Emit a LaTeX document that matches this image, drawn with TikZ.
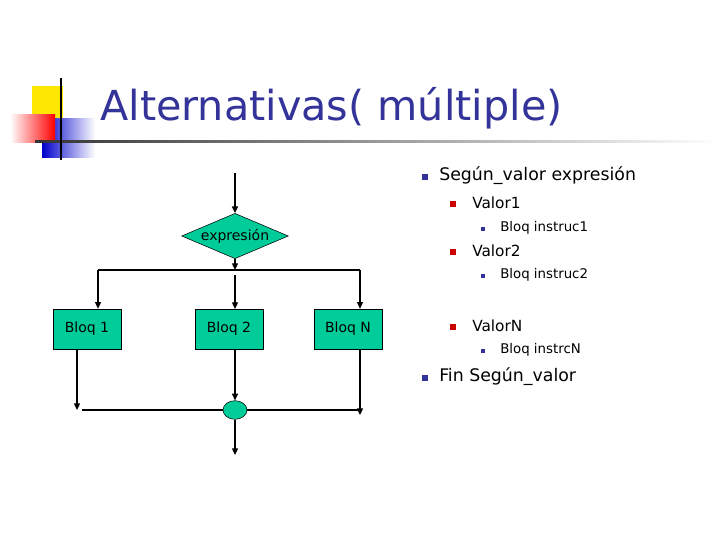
\documentclass[tikz,border=0pt]{standalone}
\usepackage{fontspec}
\setmainfont{DejaVu Sans}
\usetikzlibrary{shapes.geometric,arrows.meta}
\definecolor{fill}{HTML}{00CC99}
\definecolor{titleblue}{HTML}{333399}
\definecolor{bblue}{HTML}{333399}
\definecolor{bred}{HTML}{CC0000}
\begin{document}
\begin{tikzpicture}[x=0.75pt,y=-0.75pt,
  box/.style={draw,fill=fill,minimum width=51pt,minimum height=30pt,inner sep=0pt,font=\fontsize{10.5}{12}\selectfont},
  flow/.style={draw,line width=0.9pt,-{Triangle[length=5pt,width=4.5pt]}},
  plain/.style={draw,line width=0.9pt},
  b1/.style={fill=bblue,minimum size=4.5pt,inner sep=0pt},
  b2/.style={fill=bred,minimum size=4.5pt,inner sep=0pt},
  b3/.style={fill=bblue,minimum size=3.5pt,inner sep=0pt},
  t1/.style={anchor=west,inner sep=0pt,font=\fontsize{13}{15}\selectfont},
  t2/.style={anchor=west,inner sep=0pt,font=\fontsize{11.5}{14}\selectfont},
  t3/.style={anchor=west,inner sep=0pt,font=\fontsize{10}{12}\selectfont}]
\useasboundingbox (0,0) rectangle (720,540);
% logo
\fill[yellow!90!orange] (32,86) rectangle (63,118);
\shade[left color=blue!80!black, right color=white] (42,118) rectangle (95,157);
\shade[left color=white, right color=red] (10,114) rectangle (55,142);
\shade[left color=black!80, right color=white] (35,140) rectangle (720,142.5);
\draw[line width=2pt] (61,78) -- (61,160);
\node[anchor=base west,inner sep=0pt,text=titleblue,font=\fontsize{31}{36}\selectfont] (title) at (100,120) {Alternativas( múltiple)};
% flowchart
\coordinate (top) at (235,173);
\node[diamond,draw,fill=fill,aspect=2.4,minimum width=80pt,minimum height=34pt,inner sep=0pt,font=\fontsize{10.5}{12}\selectfont] (d) at (235,236) {expresión};
\path[flow] (top) -- (d.north);
\coordinate (j) at (235,270);
\coordinate (jl) at (98,270);
\coordinate (jr) at (360,270);
\path[flow] (d.south) -- (j);
\path[plain] (jl) -- (jr);
\node[box] (b1) at (87,329) {Bloq 1};
\node[box] (b2) at (229,329) {Bloq 2};
\node[box] (bn) at (348,329) {Bloq N};
\path[flow] (jl) -- (jl |- b1.north);
\path[flow] (jr) -- (jr |- bn.north);
\coordinate (j2) at (235,275);
\path[flow] (j2) -- (235,309);
\node[ellipse,draw,fill=fill,minimum width=18pt,minimum height=14pt,inner sep=0pt] (e) at (235,410) {};
\coordinate (l1) at (77,349);
\coordinate (l1e) at (77,410);
\path[flow] (l1) -- (l1e);
\coordinate (hl) at (82,410);
\path[plain] (hl) -- (e.west);
\coordinate (rn) at (360,349);
\coordinate (rne) at (360,415);
\path[flow] (rn) -- (rne);
\path[plain] (e.east) -- (360,410);
\path[flow] (235,349) -- (e.north);
\coordinate (out) at (235,455);
\path[flow] (e.south) -- (out);
% bullets
\node[b1] (p1) at (425,177) {};
\node[t1] (s1) at (439,176) {Según\_valor expresión};
\node[b2] (p2) at (453,204) {};
\node[t2] (s2) at (472,203) {Valor1};
\node[b3] (p3) at (483,229) {};
\node[t3] (s3) at (500,228) {Bloq instruc1};
\node[b2] (p4) at (453,252) {};
\node[t2] (s4) at (472,251) {Valor2};
\node[b3] (p5) at (483,276) {};
\node[t3] (s5) at (500,275) {Bloq instruc2};
\node[b2] (p6) at (453,327) {};
\node[t2] (s6) at (472,326) {ValorN};
\node[b3] (p7) at (483,351) {};
\node[t3] (s7) at (500,350) {Bloq instrcN};
\node[b1] (p8) at (425,378) {};
\node[t1] (s8) at (439,377) {Fin Según\_valor};
\end{tikzpicture}
\end{document}
